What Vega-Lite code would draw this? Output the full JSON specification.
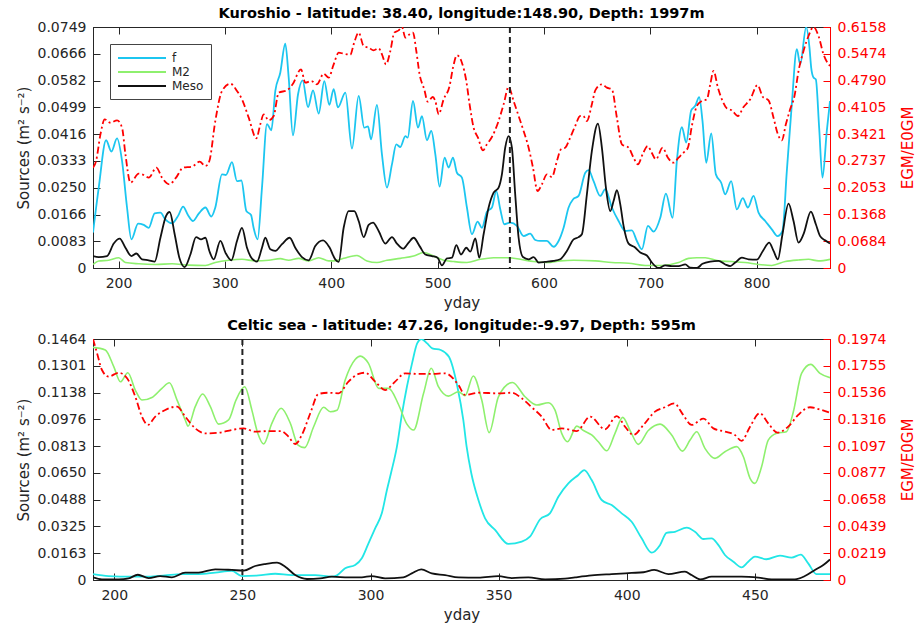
{
"$schema": "https://vega.github.io/schema/vega-lite/v6.json",
"background": "white",
"padding": {"left": 15, "top": 5, "right": 2, "bottom": 2},
"spacing": 6,
"config": {
  "view": {"stroke": "#262626", "strokeWidth": 1},
  "font": "DejaVu Sans",
  "axis": {"grid": false, "labelFont": "DejaVu Sans", "titleFont": "DejaVu Sans", "labelFontSize": 14, "titleFontSize": 15, "titleFontWeight": "normal", "labelColor": "#262626", "titleColor": "#262626", "domainColor": "#262626", "tickColor": "#262626", "tickSize": -7, "labelOverlap": false, "labelFlush": false},
  "axisX": {"labelPadding": 15, "titlePadding": 5, "labelOverlap": false},
  "axisY": {"labelPadding": 14, "titlePadding": 6, "labelOverlap": false},
  "title": {"font": "DejaVu Sans", "fontSize": 14.5, "fontWeight": "bold", "color": "#000000", "offset": -1},
  "legend": {"labelFont": "DejaVu Sans", "labelFontSize": 12, "labelColor": "#262626"}
},
"resolve": {"scale": {"color": "independent"}, "legend": {"color": "independent"}},
"datasets": {
"kf": [{"x":176,"y":0.0110},{"x":181.4,"y":0.0250},{"x":188.3,"y":0.0397},{"x":193.3,"y":0.0362},{"x":198.6,"y":0.0403},{"x":203.3,"y":0.0333},{"x":208,"y":0.0188},{"x":212.1,"y":0.0089},{"x":218.4,"y":0.0138},{"x":223.7,"y":0.0134},{"x":228.4,"y":0.0125},{"x":234,"y":0.0170},{"x":239.4,"y":0.0172},{"x":244,"y":0.0151},{"x":250.3,"y":0.0139},{"x":256,"y":0.0162},{"x":260.7,"y":0.0191},{"x":265.4,"y":0.0164},{"x":270,"y":0.0146},{"x":275.4,"y":0.0169},{"x":281.7,"y":0.0188},{"x":287.3,"y":0.0160},{"x":291,"y":0.0188},{"x":297.3,"y":0.0291},{"x":301,"y":0.0289},{"x":306.7,"y":0.0329},{"x":311.4,"y":0.0270},{"x":315.5,"y":0.0272},{"x":320.2,"y":0.0177},{"x":324.6,"y":0.0165},{"x":327,"y":0.0125},{"x":330.8,"y":0.0089},{"x":334.9,"y":0.0250},{"x":339.6,"y":0.0447},{"x":343.7,"y":0.0428},{"x":347.4,"y":0.0550},{"x":352.1,"y":0.0607},{"x":356.8,"y":0.0697},{"x":360,"y":0.0592},{"x":364,"y":0.0412},{"x":368.8,"y":0.0540},{"x":373.1,"y":0.0583},{"x":378.2,"y":0.0500},{"x":382.9,"y":0.0552},{"x":388.2,"y":0.0480},{"x":393.5,"y":0.0581},{"x":398.2,"y":0.0507},{"x":402.3,"y":0.0556},{"x":406.3,"y":0.0499},{"x":413.3,"y":0.0545},{"x":419.5,"y":0.0371},{"x":425.8,"y":0.0535},{"x":431.1,"y":0.0436},{"x":434.6,"y":0.0440},{"x":437.4,"y":0.0400},{"x":443,"y":0.0507},{"x":447.7,"y":0.0353},{"x":452.4,"y":0.0250},{"x":457.1,"y":0.0322},{"x":461.2,"y":0.0384},{"x":465,"y":0.0376},{"x":469.7,"y":0.0410},{"x":471.9,"y":0.0405},{"x":476.9,"y":0.0519},{"x":481.6,"y":0.0436},{"x":485.3,"y":0.0472},{"x":490,"y":0.0397},{"x":494.1,"y":0.0426},{"x":497.9,"y":0.0353},{"x":501.9,"y":0.0253},{"x":506.6,"y":0.0343},{"x":510.4,"y":0.0312},{"x":514.5,"y":0.0343},{"x":518.2,"y":0.0296},{"x":522.9,"y":0.0281},{"x":527.6,"y":0.0188},{"x":532.3,"y":0.0105},{"x":537.6,"y":0.0144},{"x":541.7,"y":0.0125},{"x":546.4,"y":0.0175},{"x":551.1,"y":0.0188},{"x":555.2,"y":0.0239},{"x":559,"y":0.0182},{"x":562.7,"y":0.0136},{"x":568.4,"y":0.0141},{"x":574.6,"y":0.0131},{"x":580.9,"y":0.0099},{"x":587.1,"y":0.0107},{"x":591.9,"y":0.0087},{"x":596.5,"y":0.0084},{"x":602.8,"y":0.0084},{"x":609.1,"y":0.0066},{"x":613.8,"y":0.0084},{"x":618.5,"y":0.0125},{"x":623.2,"y":0.0188},{"x":627.3,"y":0.0213},{"x":632.6,"y":0.0224},{"x":638.9,"y":0.0296},{"x":642,"y":0.0304},{"x":646.7,"y":0.0270},{"x":653,"y":0.0224},{"x":657.7,"y":0.0245},{"x":663.9,"y":0.0188},{"x":670.2,"y":0.0146},{"x":676.5,"y":0.0115},{"x":682.7,"y":0.0117},{"x":687.4,"y":0.0084},{"x":692.1,"y":0.0058},{"x":697.8,"y":0.0131},{"x":703.1,"y":0.0113},{"x":709.4,"y":0.0156},{"x":714.7,"y":0.0231},{"x":721,"y":0.0156},{"x":725,"y":0.0333},{"x":729.7,"y":0.0438},{"x":733.8,"y":0.0390},{"x":738.5,"y":0.0490},{"x":742.3,"y":0.0504},{"x":746,"y":0.0531},{"x":749.1,"y":0.0457},{"x":752.6,"y":0.0327},{"x":757.3,"y":0.0418},{"x":761.7,"y":0.0291},{"x":766.7,"y":0.0265},{"x":770.5,"y":0.0229},{"x":776.1,"y":0.0270},{"x":781.4,"y":0.0182},{"x":787,"y":0.0217},{"x":791.8,"y":0.0188},{"x":797.1,"y":0.0224},{"x":801.8,"y":0.0172},{"x":808.1,"y":0.0146},{"x":814.3,"y":0.0120},{"x":819.6,"y":0.0099},{"x":824.3,"y":0.0115},{"x":828.4,"y":0.0301},{"x":833.1,"y":0.0509},{"x":837.8,"y":0.0680},{"x":841,"y":0.0633},{"x":846.6,"y":0.0749},{"x":849.7,"y":0.0685},{"x":851.3,"y":0.0623},{"x":853.5,"y":0.0592},{"x":855.7,"y":0.0586},{"x":858.8,"y":0.0436},{"x":861.9,"y":0.0281},{"x":866,"y":0.0426},{"x":869,"y":0.0519}],
"km2": [{"x":176,"y":0.0011},{"x":181.4,"y":0.0022},{"x":190.8,"y":0.0024},{"x":200.2,"y":0.0032},{"x":206.5,"y":0.0017},{"x":219,"y":0.0013},{"x":234.7,"y":0.0011},{"x":250.3,"y":0.0013},{"x":266,"y":0.0009},{"x":281.7,"y":0.0008},{"x":291,"y":0.0017},{"x":303.6,"y":0.0024},{"x":316.1,"y":0.0027},{"x":328.7,"y":0.0022},{"x":341.2,"y":0.0024},{"x":352.1,"y":0.0029},{"x":360,"y":0.0024},{"x":369.4,"y":0.0030},{"x":378.8,"y":0.0022},{"x":388.2,"y":0.0032},{"x":397.6,"y":0.0022},{"x":402.3,"y":0.0022},{"x":411.7,"y":0.0030},{"x":424.2,"y":0.0039},{"x":433.6,"y":0.0022},{"x":443,"y":0.0017},{"x":452.4,"y":0.0024},{"x":465,"y":0.0030},{"x":477.5,"y":0.0037},{"x":486.9,"y":0.0048},{"x":496.3,"y":0.0037},{"x":505.7,"y":0.0024},{"x":515.1,"y":0.0020},{"x":527.6,"y":0.0017},{"x":540.2,"y":0.0027},{"x":552.7,"y":0.0032},{"x":565.2,"y":0.0032},{"x":577.8,"y":0.0027},{"x":590.3,"y":0.0020},{"x":602.8,"y":0.0017},{"x":615.3,"y":0.0022},{"x":627.9,"y":0.0024},{"x":648.3,"y":0.0022},{"x":663.9,"y":0.0017},{"x":679.6,"y":0.0015},{"x":695.3,"y":0.0008},{"x":711,"y":0.0008},{"x":726.6,"y":0.0017},{"x":736,"y":0.0030},{"x":743.8,"y":0.0032},{"x":751.7,"y":0.0032},{"x":764.2,"y":0.0022},{"x":776.7,"y":0.0020},{"x":789.3,"y":0.0017},{"x":801.8,"y":0.0011},{"x":814.3,"y":0.0008},{"x":826.9,"y":0.0020},{"x":839.4,"y":0.0025},{"x":848.8,"y":0.0027},{"x":858.2,"y":0.0022},{"x":869,"y":0.0027}],
"kmeso": [{"x":176,"y":0.0037},{"x":181.4,"y":0.0034},{"x":189.2,"y":0.0037},{"x":195.5,"y":0.0076},{"x":201.1,"y":0.0091},{"x":206.5,"y":0.0063},{"x":212.1,"y":0.0037},{"x":216.8,"y":0.0045},{"x":222.1,"y":0.0027},{"x":228.4,"y":0.0024},{"x":234,"y":0.0020},{"x":239.4,"y":0.0094},{"x":244.7,"y":0.0162},{"x":248.1,"y":0.0174},{"x":252.8,"y":0.0105},{"x":257.2,"y":0.0032},{"x":262.2,"y":0.0003},{"x":267.6,"y":0.0042},{"x":272.9,"y":0.0096},{"x":277.6,"y":0.0089},{"x":281.7,"y":0.0094},{"x":285.4,"y":0.0053},{"x":289.5,"y":0.0027},{"x":295.8,"y":0.0084},{"x":300.5,"y":0.0048},{"x":306.1,"y":0.0024},{"x":311.4,"y":0.0084},{"x":316.1,"y":0.0125},{"x":320.8,"y":0.0063},{"x":325.5,"y":0.0029},{"x":330.2,"y":0.0020},{"x":334.9,"y":0.0063},{"x":338,"y":0.0094},{"x":342.7,"y":0.0058},{"x":347.4,"y":0.0053},{"x":353.7,"y":0.0074},{"x":360.9,"y":0.0094},{"x":366.2,"y":0.0063},{"x":372.5,"y":0.0034},{"x":378.8,"y":0.0024},{"x":385,"y":0.0068},{"x":392.3,"y":0.0086},{"x":398.2,"y":0.0065},{"x":403.8,"y":0.0027},{"x":407,"y":0.0019},{"x":411.7,"y":0.0125},{"x":416.4,"y":0.0177},{"x":421.7,"y":0.0177},{"x":425.8,"y":0.0146},{"x":430.5,"y":0.0096},{"x":435.2,"y":0.0134},{"x":439.3,"y":0.0141},{"x":444.6,"y":0.0115},{"x":450.9,"y":0.0076},{"x":457.1,"y":0.0096},{"x":461.8,"y":0.0076},{"x":467.5,"y":0.0060},{"x":472.8,"y":0.0079},{"x":477.5,"y":0.0094},{"x":483.1,"y":0.0068},{"x":488.5,"y":0.0042},{"x":494.7,"y":0.0037},{"x":500,"y":0.0032},{"x":504.1,"y":0.0008},{"x":508.8,"y":0.0030},{"x":513.5,"y":0.0032},{"x":517.6,"y":0.0071},{"x":522,"y":0.0042},{"x":527,"y":0.0063},{"x":530.8,"y":0.0051},{"x":535.5,"y":0.0092},{"x":539.2,"y":0.0032},{"x":543.3,"y":0.0105},{"x":548,"y":0.0188},{"x":552.7,"y":0.0234},{"x":557.4,"y":0.0250},{"x":560.5,"y":0.0291},{"x":563.6,"y":0.0374},{"x":566.8,"y":0.0410},{"x":569.9,"y":0.0374},{"x":573,"y":0.0229},{"x":576.2,"y":0.0094},{"x":580.3,"y":0.0034},{"x":585.6,"y":0.0027},{"x":590.3,"y":0.0034},{"x":595,"y":0.0017},{"x":601.2,"y":0.0019},{"x":609.1,"y":0.0022},{"x":615.3,"y":0.0027},{"x":621.6,"y":0.0053},{"x":627.9,"y":0.0089},{"x":632.6,"y":0.0096},{"x":635.7,"y":0.0105},{"x":640.4,"y":0.0229},{"x":645.1,"y":0.0364},{"x":650.8,"y":0.0449},{"x":654.5,"y":0.0374},{"x":658.3,"y":0.0250},{"x":662.4,"y":0.0177},{"x":665.5,"y":0.0208},{"x":668.6,"y":0.0242},{"x":671.8,"y":0.0198},{"x":674.9,"y":0.0131},{"x":679.6,"y":0.0076},{"x":685.2,"y":0.0065},{"x":690.6,"y":0.0048},{"x":696.8,"y":0.0039},{"x":701.5,"y":0.0017},{"x":707.8,"y":0.0000},{"x":714.1,"y":0.0008},{"x":720.3,"y":0.0006},{"x":726.6,"y":0.0006},{"x":732.9,"y":0.0011},{"x":737.6,"y":0.0001},{"x":743.8,"y":0.0000},{"x":749.1,"y":0.0013},{"x":756.4,"y":0.0020},{"x":764.2,"y":0.0022},{"x":770.5,"y":0.0011},{"x":775.2,"y":0.0006},{"x":779.9,"y":0.0017},{"x":786.1,"y":0.0032},{"x":792.4,"y":0.0027},{"x":800.2,"y":0.0026},{"x":805.9,"y":0.0053},{"x":811.8,"y":0.0079},{"x":815.9,"y":0.0053},{"x":820,"y":0.0027},{"x":824.3,"y":0.0105},{"x":830,"y":0.0200},{"x":834.7,"y":0.0146},{"x":839.4,"y":0.0079},{"x":844.1,"y":0.0105},{"x":851,"y":0.0175},{"x":855.7,"y":0.0136},{"x":859.7,"y":0.0099},{"x":864.4,"y":0.0086},{"x":869,"y":0.0076}],
"ke": [{"x":176,"y":0.2564},{"x":178.9,"y":0.2734},{"x":183,"y":0.3415},{"x":187,"y":0.3799},{"x":192.4,"y":0.3713},{"x":198.6,"y":0.3773},{"x":203.3,"y":0.3586},{"x":206.5,"y":0.2904},{"x":211.2,"y":0.2180},{"x":219,"y":0.2410},{"x":223.7,"y":0.2376},{"x":228.4,"y":0.2308},{"x":235.6,"y":0.2564},{"x":240.9,"y":0.2308},{"x":247.8,"y":0.2138},{"x":254.1,"y":0.2308},{"x":260.7,"y":0.2564},{"x":269.1,"y":0.2589},{"x":276.3,"y":0.2717},{"x":281.7,"y":0.2606},{"x":285.4,"y":0.2734},{"x":291,"y":0.3756},{"x":297.3,"y":0.4523},{"x":305.2,"y":0.4710},{"x":311.4,"y":0.4523},{"x":316.1,"y":0.4310},{"x":322.4,"y":0.3841},{"x":329.6,"y":0.3313},{"x":333.3,"y":0.3671},{"x":336.5,"y":0.3926},{"x":341.2,"y":0.3773},{"x":345.9,"y":0.3884},{"x":350.6,"y":0.4480},{"x":358.4,"y":0.4540},{"x":363.7,"y":0.4693},{"x":371.6,"y":0.5076},{"x":375.6,"y":0.4735},{"x":381.3,"y":0.4778},{"x":386.6,"y":0.4693},{"x":392.9,"y":0.4965},{"x":397.6,"y":0.4863},{"x":402.3,"y":0.5204},{"x":407,"y":0.5502},{"x":411.7,"y":0.5476},{"x":418,"y":0.5450},{"x":421.1,"y":0.5715},{"x":425.8,"y":0.6013},{"x":430.5,"y":0.5672},{"x":435.2,"y":0.5630},{"x":439.9,"y":0.5562},{"x":444.6,"y":0.5613},{"x":447.7,"y":0.5459},{"x":451.5,"y":0.5204},{"x":455.6,"y":0.5545},{"x":459.3,"y":0.6013},{"x":463.4,"y":0.6073},{"x":466.5,"y":0.6158},{"x":469.7,"y":0.5885},{"x":473.7,"y":0.5970},{"x":476.9,"y":0.6013},{"x":480,"y":0.5545},{"x":483.1,"y":0.4948},{"x":487.5,"y":0.4565},{"x":490.7,"y":0.4250},{"x":495.4,"y":0.4369},{"x":497.9,"y":0.4267},{"x":501,"y":0.3926},{"x":505.7,"y":0.4310},{"x":511.3,"y":0.4650},{"x":514.5,"y":0.5119},{"x":518.2,"y":0.5434},{"x":522.9,"y":0.5246},{"x":527,"y":0.4778},{"x":530.1,"y":0.4182},{"x":533.9,"y":0.3586},{"x":538,"y":0.3330},{"x":542.7,"y":0.3006},{"x":546.4,"y":0.3160},{"x":551.1,"y":0.3347},{"x":556.8,"y":0.3713},{"x":562.1,"y":0.4182},{"x":566.8,"y":0.4625},{"x":571.5,"y":0.4267},{"x":576.2,"y":0.3884},{"x":580.9,"y":0.3500},{"x":585.6,"y":0.3075},{"x":589.7,"y":0.2564},{"x":594,"y":0.1967},{"x":598.1,"y":0.2138},{"x":602.8,"y":0.2393},{"x":607.5,"y":0.2325},{"x":612.2,"y":0.2734},{"x":616,"y":0.3032},{"x":620.1,"y":0.3075},{"x":624.7,"y":0.3330},{"x":629.4,"y":0.3628},{"x":634.1,"y":0.3884},{"x":637,"y":0.3884},{"x":640.4,"y":0.3756},{"x":645.1,"y":0.4182},{"x":648.3,"y":0.4540},{"x":654.5,"y":0.4693},{"x":659.2,"y":0.4608},{"x":663.9,"y":0.4565},{"x":668.6,"y":0.3841},{"x":673.3,"y":0.3160},{"x":679.6,"y":0.3075},{"x":684.3,"y":0.2819},{"x":688.4,"y":0.2649},{"x":692.8,"y":0.2904},{"x":697.5,"y":0.3117},{"x":701.5,"y":0.2938},{"x":705.3,"y":0.2777},{"x":711.6,"y":0.3075},{"x":716.6,"y":0.2819},{"x":721.9,"y":0.2691},{"x":726.6,"y":0.2819},{"x":731.3,"y":0.2947},{"x":735.4,"y":0.3075},{"x":739.1,"y":0.3628},{"x":743.8,"y":0.4139},{"x":748.5,"y":0.4267},{"x":753.2,"y":0.4310},{"x":756.4,"y":0.4693},{"x":759.5,"y":0.5034},{"x":763.6,"y":0.4608},{"x":768,"y":0.4267},{"x":772,"y":0.4080},{"x":776.7,"y":0.4028},{"x":782.4,"y":0.3884},{"x":787.7,"y":0.4114},{"x":794,"y":0.4310},{"x":800.8,"y":0.4676},{"x":805.9,"y":0.4369},{"x":811.2,"y":0.4284},{"x":815.9,"y":0.3841},{"x":820,"y":0.3415},{"x":823.7,"y":0.3262},{"x":827.5,"y":0.3671},{"x":831.5,"y":0.4054},{"x":835.6,"y":0.4395},{"x":839.4,"y":0.5034},{"x":844.1,"y":0.5545},{"x":848.8,"y":0.5928},{"x":853.5,"y":0.6158},{"x":858.2,"y":0.5928},{"x":862.9,"y":0.5459},{"x":869,"y":0.5161}],
"cf": [{"x":191.7,"y":0.0036},{"x":197.8,"y":0.0024},{"x":206.9,"y":0.0020},{"x":213.4,"y":0.0020},{"x":219.9,"y":0.0028},{"x":226.4,"y":0.0036},{"x":232.9,"y":0.0036},{"x":239.4,"y":0.0045},{"x":245.9,"y":0.0055},{"x":249.8,"y":0.0024},{"x":256.3,"y":0.0028},{"x":262.8,"y":0.0038},{"x":269.3,"y":0.0030},{"x":278.4,"y":0.0030},{"x":284.9,"y":0.0020},{"x":286.9,"y":0.0028},{"x":290.1,"y":0.0071},{"x":294,"y":0.0091},{"x":296.6,"y":0.0132},{"x":299.2,"y":0.0223},{"x":301.8,"y":0.0314},{"x":304.4,"y":0.0405},{"x":306.4,"y":0.0547},{"x":308,"y":0.0650},{"x":310.3,"y":0.0810},{"x":312.3,"y":0.1012},{"x":314.2,"y":0.1174},{"x":316.2,"y":0.1316},{"x":318.2,"y":0.1437},{"x":319.9,"y":0.1464},{"x":322.1,"y":0.1437},{"x":324.1,"y":0.1407},{"x":327.4,"y":0.1397},{"x":330.6,"y":0.1356},{"x":333.9,"y":0.1174},{"x":336.2,"y":0.0972},{"x":337.5,"y":0.0810},{"x":339.3,"y":0.0650},{"x":342.1,"y":0.0486},{"x":344.7,"y":0.0375},{"x":348.6,"y":0.0304},{"x":353.8,"y":0.0219},{"x":359,"y":0.0233},{"x":362.2,"y":0.0263},{"x":366.2,"y":0.0369},{"x":370,"y":0.0405},{"x":373.3,"y":0.0506},{"x":377.2,"y":0.0587},{"x":381.1,"y":0.0638},{"x":383.4,"y":0.0668},{"x":386.3,"y":0.0607},{"x":390.2,"y":0.0486},{"x":394.1,"y":0.0455},{"x":398,"y":0.0405},{"x":401.9,"y":0.0354},{"x":405.8,"y":0.0253},{"x":409.7,"y":0.0166},{"x":413,"y":0.0213},{"x":415.5,"y":0.0287},{"x":418.8,"y":0.0293},{"x":423.4,"y":0.0318},{"x":426.6,"y":0.0293},{"x":429.9,"y":0.0249},{"x":433.1,"y":0.0253},{"x":435.7,"y":0.0213},{"x":438.3,"y":0.0152},{"x":441.6,"y":0.0111},{"x":444.8,"y":0.0077},{"x":447.4,"y":0.0111},{"x":450,"y":0.0142},{"x":454.5,"y":0.0126},{"x":459.8,"y":0.0148},{"x":464.3,"y":0.0136},{"x":467.9,"y":0.0154},{"x":470.8,"y":0.0101},{"x":474,"y":0.0036},{"x":479.3,"y":0.0036}],
"cm2": [{"x":191.7,"y":0.1413},{"x":196.5,"y":0.1397},{"x":199.8,"y":0.1296},{"x":202.4,"y":0.1204},{"x":205.3,"y":0.1259},{"x":208.2,"y":0.1154},{"x":210.8,"y":0.1093},{"x":214.7,"y":0.1109},{"x":218.6,"y":0.1164},{"x":221.5,"y":0.1198},{"x":224.5,"y":0.1093},{"x":227.7,"y":0.0972},{"x":228.8,"y":0.0935},{"x":231.6,"y":0.1053},{"x":234.5,"y":0.1130},{"x":237.5,"y":0.1053},{"x":240.7,"y":0.0947},{"x":244.6,"y":0.0972},{"x":247.5,"y":0.1093},{"x":250.9,"y":0.1174},{"x":253.7,"y":0.1032},{"x":256,"y":0.0891},{"x":258.3,"y":0.0826},{"x":261.5,"y":0.0952},{"x":265.1,"y":0.1043},{"x":268.7,"y":0.0952},{"x":271.7,"y":0.0820},{"x":274.3,"y":0.0804},{"x":277.8,"y":0.0931},{"x":281.7,"y":0.1049},{"x":284.3,"y":0.1022},{"x":286.9,"y":0.1031},{"x":290.1,"y":0.1215},{"x":294,"y":0.1340},{"x":296,"y":0.1360},{"x":299.2,"y":0.1316},{"x":303.2,"y":0.1164},{"x":307.1,"y":0.1164},{"x":311,"y":0.1063},{"x":314.2,"y":0.0947},{"x":316.8,"y":0.0911},{"x":320.7,"y":0.1134},{"x":323.7,"y":0.1286},{"x":326.5,"y":0.1174},{"x":330.4,"y":0.1117},{"x":334.3,"y":0.1144},{"x":336.9,"y":0.1120},{"x":340.1,"y":0.1239},{"x":343.4,"y":0.1093},{"x":346.3,"y":0.0895},{"x":349.9,"y":0.1113},{"x":355.4,"y":0.1200},{"x":360.3,"y":0.1113},{"x":364.9,"y":0.1063},{"x":369.4,"y":0.1077},{"x":372,"y":0.1032},{"x":374.6,"y":0.0891},{"x":376.9,"y":0.0840},{"x":380.5,"y":0.0935},{"x":383.1,"y":0.0908},{"x":386.3,"y":0.0881},{"x":388.9,"y":0.0840},{"x":392.2,"y":0.0785},{"x":395.4,"y":0.0891},{"x":398.4,"y":0.0988},{"x":401.3,"y":0.0908},{"x":404.5,"y":0.0824},{"x":408.4,"y":0.0908},{"x":413,"y":0.0947},{"x":417.5,"y":0.0881},{"x":421.7,"y":0.0783},{"x":424.7,"y":0.0850},{"x":427.3,"y":0.0901},{"x":430.5,"y":0.0800},{"x":434.4,"y":0.0739},{"x":438.3,"y":0.0779},{"x":442.9,"y":0.0810},{"x":445.5,"y":0.0749},{"x":448.1,"y":0.0618},{"x":450,"y":0.0587},{"x":452.6,"y":0.0688},{"x":455.2,"y":0.0850},{"x":458.5,"y":0.0891},{"x":462.3,"y":0.0901},{"x":465,"y":0.1022},{"x":468.2,"y":0.1255},{"x":471.8,"y":0.1310},{"x":475.4,"y":0.1255},{"x":479.3,"y":0.1229}],
"cmeso": [{"x":191.7,"y":0.0016},{"x":195.2,"y":0.0004},{"x":201.7,"y":0.0004},{"x":205.6,"y":0.0010},{"x":209.2,"y":0.0032},{"x":213.4,"y":0.0012},{"x":217.9,"y":0.0024},{"x":222.5,"y":0.0016},{"x":227.7,"y":0.0045},{"x":232.9,"y":0.0045},{"x":239.4,"y":0.0065},{"x":245.9,"y":0.0061},{"x":250.5,"y":0.0057},{"x":255,"y":0.0085},{"x":258.9,"y":0.0097},{"x":263.5,"y":0.0105},{"x":266.7,"y":0.0081},{"x":270.6,"y":0.0030},{"x":275.2,"y":0.0006},{"x":280.4,"y":0.0010},{"x":284.9,"y":0.0020},{"x":291.4,"y":0.0016},{"x":296.6,"y":0.0016},{"x":300.3,"y":0.0024},{"x":305.7,"y":0.0010},{"x":312.8,"y":0.0016},{"x":316.1,"y":0.0040},{"x":319.8,"y":0.0065},{"x":323.9,"y":0.0040},{"x":329.1,"y":0.0030},{"x":334.3,"y":0.0016},{"x":342.1,"y":0.0014},{"x":349.9,"y":0.0024},{"x":355.1,"y":0.0012},{"x":361.6,"y":0.0016},{"x":368.1,"y":0.0004},{"x":375.9,"y":0.0008},{"x":379.8,"y":0.0016},{"x":386.3,"y":0.0028},{"x":394.1,"y":0.0036},{"x":401.9,"y":0.0043},{"x":406.5,"y":0.0047},{"x":410.7,"y":0.0061},{"x":416.2,"y":0.0036},{"x":422.7,"y":0.0051},{"x":425.3,"y":0.0030},{"x":428.6,"y":0.0004},{"x":433.1,"y":0.0020},{"x":438.3,"y":0.0020},{"x":444.8,"y":0.0020},{"x":451.3,"y":0.0014},{"x":456.5,"y":0.0004},{"x":465.6,"y":0.0004},{"x":469.5,"y":0.0024},{"x":473.4,"y":0.0061},{"x":476.7,"y":0.0091},{"x":479.3,"y":0.0125}],
"ce": [{"x":191.7,"y":0.1974},{"x":193.3,"y":0.1857},{"x":195.2,"y":0.1720},{"x":197.8,"y":0.1666},{"x":201.7,"y":0.1698},{"x":205,"y":0.1652},{"x":208.2,"y":0.1502},{"x":210.8,"y":0.1338},{"x":213.1,"y":0.1270},{"x":216,"y":0.1338},{"x":219.9,"y":0.1393},{"x":224.5,"y":0.1420},{"x":227.7,"y":0.1338},{"x":231.6,"y":0.1242},{"x":235.5,"y":0.1201},{"x":240.7,"y":0.1206},{"x":245.9,"y":0.1229},{"x":250.5,"y":0.1242},{"x":255,"y":0.1215},{"x":260.2,"y":0.1220},{"x":265.1,"y":0.1220},{"x":268,"y":0.1174},{"x":270.6,"y":0.1114},{"x":273.2,"y":0.1188},{"x":276.5,"y":0.1366},{"x":279.7,"y":0.1524},{"x":283.6,"y":0.1534},{"x":287.5,"y":0.1529},{"x":291.4,"y":0.1625},{"x":295.4,"y":0.1688},{"x":297.9,"y":0.1698},{"x":301.8,"y":0.1625},{"x":305.7,"y":0.1556},{"x":309.6,"y":0.1625},{"x":313.5,"y":0.1693},{"x":318.7,"y":0.1688},{"x":323.9,"y":0.1688},{"x":329.1,"y":0.1693},{"x":334.3,"y":0.1597},{"x":336.9,"y":0.1516},{"x":342.1,"y":0.1534},{"x":349.9,"y":0.1529},{"x":355.1,"y":0.1534},{"x":359,"y":0.1488},{"x":362.9,"y":0.1415},{"x":366.8,"y":0.1338},{"x":370.7,"y":0.1229},{"x":374.6,"y":0.1242},{"x":380.5,"y":0.1220},{"x":385.7,"y":0.1338},{"x":391.5,"y":0.1234},{"x":396.1,"y":0.1343},{"x":399.3,"y":0.1256},{"x":402.6,"y":0.1188},{"x":406.5,"y":0.1270},{"x":411,"y":0.1379},{"x":414.9,"y":0.1415},{"x":418.5,"y":0.1447},{"x":422,"y":0.1352},{"x":425.3,"y":0.1270},{"x":429.9,"y":0.1322},{"x":433.8,"y":0.1242},{"x":438.3,"y":0.1215},{"x":442.2,"y":0.1188},{"x":444.8,"y":0.1139},{"x":448.1,"y":0.1256},{"x":451.9,"y":0.1366},{"x":455.2,"y":0.1283},{"x":458.8,"y":0.1207},{"x":463,"y":0.1256},{"x":466.9,"y":0.1352},{"x":471.5,"y":0.1415},{"x":475.4,"y":0.1396},{"x":479.3,"y":0.1371}]
},
"vconcat": [
{
  "title": {"text": "Kuroshio - latitude: 38.40, longitude:148.90, Depth: 1997m"},
  "width": 737, "height": 241,
  "resolve": {"scale": {"y": "independent"}, "axis": {"x": "independent"}},
  "layer": [
    {
      "layer": [
        {"data": {"name": "kf"}, "mark": {"type": "line", "strokeWidth": 1.8, "interpolate": "monotone", "clip": true},
         "encoding": {
           "x": {"field": "x", "type": "quantitative", "scale": {"domain": [176, 869], "nice": false, "zero": false}, "axis": {"title": "yday", "values": [200,300,400,500,600,700,800], "labelOverlap": false}},
           "y": {"field": "y", "type": "quantitative", "scale": {"domain": [0, 0.0749], "nice": false}, "axis": {"title": "Sources (m² s⁻²)", "labelOverlap": false, "values": [0,0.0083,0.0166,0.025,0.0333,0.0416,0.0499,0.0582,0.0666,0.0749], "labelExpr": "datum.value == 0 ? '0' : format(datum.value, '.4f')"}},
           "color": {"datum": "f", "type": "nominal", "scale": {"domain": ["f", "M2", "Meso"], "range": ["#1cc6f0", "#8ef06e", "#111111"]},
             "legend": {"title": null, "orient": "top-left", "offset": 17, "strokeColor": "#444444", "fillColor": "white", "padding": 7, "symbolType": "M-1,0L7,0", "symbolSize": 144, "symbolStrokeWidth": 2, "rowPadding": 1, "labelOffset": 41}}
         }},
        {"data": {"name": "km2"}, "mark": {"type": "line", "strokeWidth": 1.6, "interpolate": "monotone", "clip": true},
         "encoding": {"x": {"field": "x", "type": "quantitative", "axis": {"title": "yday", "values": [200,300,400,500,600,700,800], "labelOverlap": false}},
           "y": {"field": "y", "type": "quantitative", "axis": {"title": "Sources (m² s⁻²)", "labelOverlap": false, "values": [0,0.0083,0.0166,0.025,0.0333,0.0416,0.0499,0.0582,0.0666,0.0749], "labelExpr": "datum.value == 0 ? '0' : format(datum.value, '.4f')"}},
           "color": {"datum": "M2", "type": "nominal"}}},
        {"data": {"name": "kmeso"}, "mark": {"type": "line", "strokeWidth": 1.8, "interpolate": "monotone", "clip": true},
         "encoding": {"x": {"field": "x", "type": "quantitative", "axis": {"title": "yday", "values": [200,300,400,500,600,700,800], "labelOverlap": false}},
           "y": {"field": "y", "type": "quantitative", "axis": {"title": "Sources (m² s⁻²)", "labelOverlap": false, "values": [0,0.0083,0.0166,0.025,0.0333,0.0416,0.0499,0.0582,0.0666,0.0749], "labelExpr": "datum.value == 0 ? '0' : format(datum.value, '.4f')"}},
           "color": {"datum": "Meso", "type": "nominal"}}}
      ]
    },
    {"data": {"name": "ke"}, "mark": {"type": "line", "color": "#ff0000", "strokeWidth": 1.8, "strokeDash": [7, 3, 2, 3], "interpolate": "monotone", "clip": true},
     "encoding": {
       "x": {"field": "x", "type": "quantitative", "axis": {"orient": "top", "labels": false, "title": null, "values": [200,300,400,500,600,700,800]}},
       "y": {"field": "y", "type": "quantitative", "scale": {"domain": [0, 0.6158], "nice": false}, "axis": {"orient": "right", "title": "EGM/E0GM", "titleAngle": 270, "titleBaseline": "top", "titlePadding": 15, "labelOverlap": false, "values": [0,0.0684,0.1368,0.2053,0.2737,0.3421,0.4105,0.479,0.5474,0.6158], "labelExpr": "datum.value == 0 ? '0' : format(datum.value, '.4f')", "labelColor": "#ff0000", "titleColor": "#ff0000", "domainColor": "#ff0000", "tickColor": "#ff0000"}}
     }},
    {"data": {"values": [{"x": 568}]}, "mark": {"type": "rule", "color": "#222222", "strokeWidth": 2, "strokeDash": [6, 4]},
     "encoding": {"x": {"field": "x", "type": "quantitative", "axis": null}}}
  ]
},
{
  "title": {"text": "Celtic sea - latitude: 47.26, longitude:-9.97, Depth: 595m"},
  "width": 737, "height": 241,
  "resolve": {"scale": {"y": "independent"}, "axis": {"x": "independent"}},
  "layer": [
    {
      "layer": [
        {"data": {"name": "cf"}, "mark": {"type": "line", "strokeWidth": 1.8, "interpolate": "monotone", "clip": true},
         "encoding": {
           "x": {"field": "x", "type": "quantitative", "scale": {"domain": [191.7, 479.3], "nice": false, "zero": false}, "axis": {"title": "yday", "values": [200,250,300,350,400,450], "labelOverlap": false}},
           "y": {"field": "y", "type": "quantitative", "scale": {"domain": [0, 0.1464], "nice": false}, "axis": {"title": "Sources (m² s⁻²)", "labelOverlap": false, "values": [0,0.0163,0.0325,0.0488,0.065,0.0813,0.0976,0.1138,0.1301,0.1464], "labelExpr": "datum.value == 0 ? '0' : format(datum.value, '.4f')"}},
           "color": {"datum": "f", "type": "nominal", "scale": {"domain": ["f", "M2", "Meso"], "range": ["#22e6e6", "#8ef06e", "#111111"]}, "legend": null}
         }},
        {"data": {"name": "cm2"}, "mark": {"type": "line", "strokeWidth": 1.6, "interpolate": "monotone", "clip": true},
         "encoding": {"x": {"field": "x", "type": "quantitative", "axis": {"title": "yday", "values": [200,250,300,350,400,450], "labelOverlap": false}},
           "y": {"field": "y", "type": "quantitative", "axis": {"title": "Sources (m² s⁻²)", "labelOverlap": false, "values": [0,0.0163,0.0325,0.0488,0.065,0.0813,0.0976,0.1138,0.1301,0.1464], "labelExpr": "datum.value == 0 ? '0' : format(datum.value, '.4f')"}},
           "color": {"datum": "M2", "type": "nominal"}}},
        {"data": {"name": "cmeso"}, "mark": {"type": "line", "strokeWidth": 1.8, "interpolate": "monotone", "clip": true},
         "encoding": {"x": {"field": "x", "type": "quantitative", "axis": {"title": "yday", "values": [200,250,300,350,400,450], "labelOverlap": false}},
           "y": {"field": "y", "type": "quantitative", "axis": {"title": "Sources (m² s⁻²)", "labelOverlap": false, "values": [0,0.0163,0.0325,0.0488,0.065,0.0813,0.0976,0.1138,0.1301,0.1464], "labelExpr": "datum.value == 0 ? '0' : format(datum.value, '.4f')"}},
           "color": {"datum": "Meso", "type": "nominal"}}}
      ]
    },
    {"data": {"name": "ce"}, "mark": {"type": "line", "color": "#ff0000", "strokeWidth": 1.8, "strokeDash": [7, 3, 2, 3], "interpolate": "monotone", "clip": true},
     "encoding": {
       "x": {"field": "x", "type": "quantitative", "axis": {"orient": "top", "labels": false, "title": null, "values": [200,250,300,350,400,450]}},
       "y": {"field": "y", "type": "quantitative", "scale": {"domain": [0, 0.1974], "nice": false}, "axis": {"orient": "right", "title": "EGM/E0GM", "titleAngle": 270, "titleBaseline": "top", "titlePadding": 15, "labelOverlap": false, "values": [0,0.0219,0.0439,0.0658,0.0877,0.1097,0.1316,0.1536,0.1755,0.1974], "labelExpr": "datum.value == 0 ? '0' : format(datum.value, '.4f')", "labelColor": "#ff0000", "titleColor": "#ff0000", "domainColor": "#ff0000", "tickColor": "#ff0000"}}
     }},
    {"data": {"values": [{"x": 250}]}, "mark": {"type": "rule", "color": "#222222", "strokeWidth": 2, "strokeDash": [6, 4]},
     "encoding": {"x": {"field": "x", "type": "quantitative", "axis": null}}}
  ]
}
]
}
